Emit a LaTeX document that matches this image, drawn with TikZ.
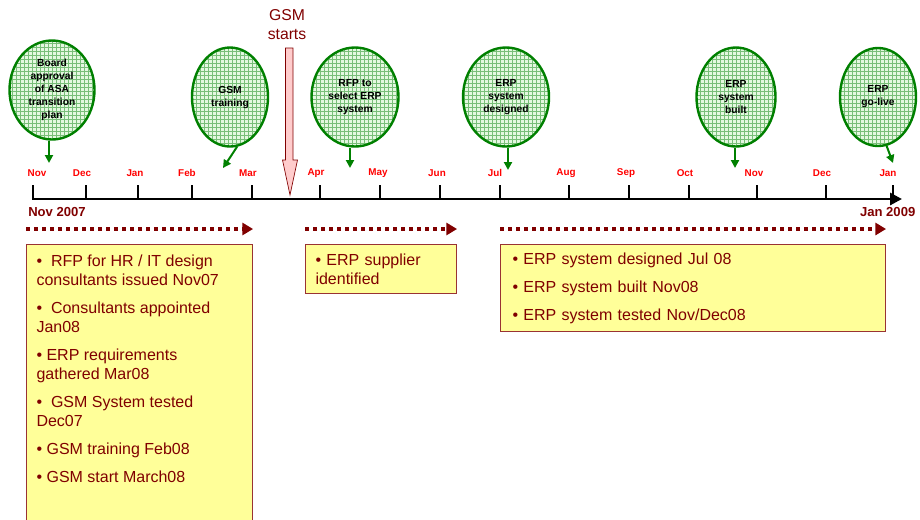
\documentclass[tikz,border=0pt]{standalone}
\usepackage{fontspec}
\setmainfont{Liberation Sans}
\usepackage{xcolor}
\usepackage{tikz}
\usetikzlibrary{shapes.geometric,arrows.meta,patterns}
\definecolor{maroon}{RGB}{128,0,0}
\definecolor{monthred}{RGB}{255,0,0}
\definecolor{pingreen}{RGB}{0,128,0}
\definecolor{gridgreen}{RGB}{120,190,120}
\definecolor{palegreen}{RGB}{228,248,224}
\definecolor{noteyellow}{RGB}{255,255,153}
\definecolor{gsmpink}{RGB}{255,204,204}

\begin{document}
\begin{tikzpicture}[
  x=0.75pt, y=-0.75pt,
  milestone/.style={ellipse, draw=pingreen, line width=1.8pt, inner sep=0pt,
    preaction={fill=palegreen}, pattern=grid, pattern color=gridgreen,
    align=center, font=\fontsize{7.7}{9.75}\selectfont\bfseries},
  pin/.style={pingreen, line width=1.5pt, -{Triangle[length=6pt,width=6pt]}},
  month/.style={text=monthred, font=\fontsize{7.4}{8}\selectfont\bfseries},
  tick/.style={line width=2.2pt},
  phase/.style={maroon, line width=3pt, dash pattern=on 3pt off 3pt,
    -{Triangle[length=8pt,width=9pt]}},
  note/.style={draw=maroon!80, line width=0.8pt, fill=noteyellow, text=maroon,
    anchor=north west, font=\fontsize{12}{14.25}\selectfont},
  year/.style={text=maroon, font=\fontsize{9.8}{11}\selectfont\bfseries}
]
  \clip (0,0) rectangle (920,519);

  \node[milestone, minimum width=63.75pt, minimum height=74.25pt] (board) at (52,90)
    {Board\\approval\\of ASA\\transition\\plan};
  \node[milestone, minimum width=57pt, minimum height=74.25pt] (gsmtrain) at (230,97)
    {GSM\\training};
  \node[milestone, minimum width=65.25pt, minimum height=74.25pt] (rfp) at (355,97)
    {RFP to\\select ERP\\system};
  \node[milestone, minimum width=64.5pt, minimum height=74.25pt] (design) at (506,97)
    {ERP\\system\\designed};
  \node[milestone, minimum width=59.25pt, minimum height=74.25pt] (built) at (736,97)
    {ERP\\system\\built};
  \node[milestone, minimum width=57pt, minimum height=73.5pt] (golive) at (878,97)
    {ERP\\go-live};

  \coordinate (boardtip) at (49,163);
  \coordinate (gsmtip) at (223,168);
  \coordinate (rfptip) at (350,168);
  \coordinate (designtip) at (508,170);
  \coordinate (builttip) at (735,168);
  \coordinate (golivetip) at (893,163);
  \draw[pin] (board.south -| boardtip) -- (boardtip);
  \draw[pin] (gsmtrain.-82) -- (gsmtip);
  \draw[pin] (rfp.south -| rfptip) -- (rfptip);
  \draw[pin] (design.south -| designtip) -- (designtip);
  \draw[pin] (built.south -| builttip) -- (builttip);
  \draw[pin] (golive.-80) -- (golivetip);

  \coordinate (axisstart) at (32,199);
  \coordinate (axisend) at (902,199);
  \draw[line width=2.2pt, -{Triangle[length=9pt,width=9pt]}] (axisstart) -- (axisend);
  \foreach \x/\lx/\mon [count=\i] in {33/37/Nov,86/82/Dec,138/135/Jan,192/187/Feb,
      252/248/Mar,320/316/Apr,380/378/May,440/437/Jun,500/495/Jul,569/566/Aug,
      629/626/Sep,689/685/Oct,757/754/Nov,826/822/Dec,893/888/Jan}{
    \draw[tick] (\x,185) -- (\x,199);
    \node[month] (mon\i) at (\lx,173) {\mon};
  }
  \node[year] (start) at (57,212) {Nov 2007};
  \node[year, anchor=east] (finish) at (920,212) {Jan 2009};

  \node[text=maroon, align=center, font=\fontsize{11.8}{14.25}\selectfont] (gsm) at (287,25)
    {GSM\\starts};
  \draw[fill=gsmpink, draw=maroon, line width=0.5pt] (285.5,48) -- (293,48) -- (293,160)
    -- (297.5,160) -- (290,195) -- (282.5,160) -- (285.5,160) -- cycle;

  \node[note, inner sep=7.5pt] (prep) at (26,244)
    {\parbox[t][210pt][t]{154.5pt}{\raggedright
     \textbullet\ \ RFP for HR / IT design\\
     consultants issued Nov07\\[6.75pt]
     \textbullet\ \ Consultants appointed\\
     Jan08\\[6.75pt]
     \textbullet{} ERP requirements\\
     gathered Mar08\\[6.75pt]
     \textbullet\ \ GSM System tested\\
     Dec07\\[6.75pt]
     \textbullet{} GSM training Feb08\\[6.75pt]
     \textbullet{} GSM start March08}};
  \node[note, inner xsep=7.5pt, text width=98.25pt, minimum height=36.75pt, align=left]
    (supplier) at (305,244) {\textbullet{} ERP supplier\\identified};
  \node[note, inner xsep=9pt, text width=270.75pt, minimum height=65.25pt, align=left]
    (erpbuild) at (500,244)
    {\textbullet{} ERP system designed Jul 08\\[6.75pt]
     \textbullet{} ERP system built Nov08\\[6.75pt]
     \textbullet{} ERP system tested Nov/Dec08};

  \draw[phase] ([yshift=11.25pt]prep.north west) -- ([yshift=11.25pt]prep.north east);
  \draw[phase] ([yshift=11.25pt]supplier.north west) -- ([yshift=11.25pt]supplier.north east);
  \draw[phase] ([yshift=11.25pt]erpbuild.north west) -- ([yshift=11.25pt]erpbuild.north east);
\end{tikzpicture}
\end{document}
